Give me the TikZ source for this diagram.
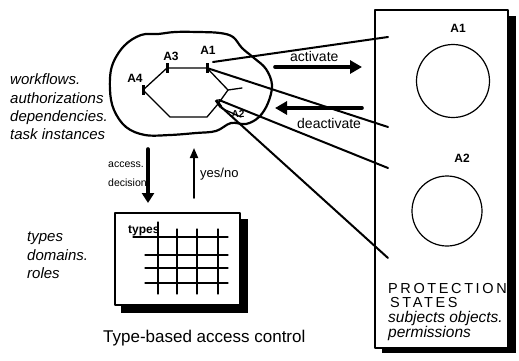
\documentclass[tikz,border=0pt]{standalone}
\usepackage{fontspec}
\setmainfont{Liberation Sans}
\usetikzlibrary{arrows.meta}

\begin{document}
\begin{tikzpicture}[x=1pt,y=-1pt,line join=round,line cap=round,
  lbl/.style={inner sep=0pt,anchor=base west},
  note/.style={lbl,font=\fontsize{15}{18}\selectfont\itshape},
  tag/.style={inner sep=0pt,font=\fontsize{12}{12}\selectfont\bfseries},
  small/.style={lbl,font=\fontsize{10.5}{11}\selectfont},
  wire/.style={line width=2pt},
  hexedge/.style={line width=1.3pt},
  tick/.style={line width=3pt,line cap=butt},
  bigarrow/.style={line width=3.6pt,-{Triangle[length=12pt,width=13pt]}},
  thinarrow/.style={line width=1.8pt,-{Triangle[length=10pt,width=8pt]}},
  gridline/.style={line width=1.3pt}]
\useasboundingbox (0,0) rectangle (519,360);

% ---------- cloud with the activity graph ----------
\draw[line width=2.2pt] plot[smooth cycle,tension=0.6] coordinates {
  (124,46) (141,35) (158,34) (175,32) (198,32) (220,33) (233,37) (242,48)
  (254,58) (266,69) (272,85) (268,103) (259,117) (246,124) (231,123)
  (216,131) (196,133) (170,135) (145,135) (126,127) (114,110) (110,90)
  (112,66)};

\coordinate (hA1) at (207,68);
\coordinate (hA3) at (167,68);
\coordinate (hA4) at (143,90);
\coordinate (hBL) at (170,117);
\coordinate (hBR) at (207,117);
\coordinate (hA2) at (218,104);
\coordinate (hR)  at (228,90);
\coordinate (hS)  at (242,88);

\draw[hexedge] (hA3) -- (hA1) -- (hR) -- (hA2) -- (hBR) -- (hBL) -- (hA4) -- cycle;
\draw[hexedge] (hR) -- (hS);

\draw[tick] (207,63) -- (207,73);
\draw[tick] (167,63) -- (167,73);
\draw[tick] (143,85) -- (143,95);
\draw[tick] (216,100) -- (221,107);

\node[tag] (tA1) at (208,50) {A1};
\node[tag] (tA3) at (171,56) {A3};
\node[tag] (tA4) at (135,78) {A4};
\node[inner sep=0pt,font=\fontsize{10}{10}\selectfont\bfseries] (tA2) at (238,114) {A2};

% ---------- protection-state panel ----------
\fill (382,16) rectangle (516,353);
\draw[fill=white,line width=1.4pt] (375,10) rectangle (508,348);

\node[circle,draw,line width=1.2pt,minimum size=73pt,inner sep=0pt] (cA1) at (453,81) {};
\node[circle,draw,line width=1.2pt,minimum size=70pt,inner sep=0pt] (cA2) at (447,211) {};
\node[tag] (pA1) at (458,28) {A1};
\node[tag] (pA2) at (462,158) {A2};

\node[lbl,font=\fontsize{14.5}{14}\selectfont\addfontfeatures{LetterSpace=18}] (prot) at (388,293) {PROTECTION};
\node[lbl,font=\fontsize{14.5}{14}\selectfont\addfontfeatures{LetterSpace=18}] (stat) at (390,307) {STATES};
\node[note,font=\fontsize{15.5}{16}\selectfont\itshape] (subj) at (388,322) {subjects objects.};
\node[note,font=\fontsize{15.5}{16}\selectfont\itshape] (perm) at (388,337) {permissions};

% ---------- links between the graph and the panel ----------
\coordinate (e1) at (388,37);
\coordinate (e2) at (388,127);
\coordinate (e3) at (388,168);
\coordinate (e4) at (388,258);
\coordinate (s1) at (213,62);
\coordinate (s3) at (219,100);
\coordinate (s4) at (219,105);

\draw[wire] (s1) -- (e1);
\draw[wire] (hA1) -- (e2);
\draw[wire] (s3) -- (e3);
\draw[wire] (s4) -- (e4);
\draw[line width=1.3pt] (221,108) -- (241,117);

\coordinate (actL) at (275,67);
\coordinate (actR) at (362,67);
\coordinate (deaL) at (275,108);
\coordinate (deaR) at (362,108);
\draw[bigarrow] (actL) -- (actR);
\draw[bigarrow] (deaR) -- (deaL);
\node[lbl,font=\fontsize{14}{14}\selectfont] (act) at (290,61) {activate};
\node[lbl,font=\fontsize{14}{14}\selectfont] (dea) at (297,128) {deactivate};

% ---------- left-hand notes ----------
\node[note] (n1) at (10,84) {workflows.};
\node[note] (n2) at (10,103) {authorizations};
\node[note] (n3) at (10,121) {dependencies.};
\node[note] (n4) at (10,139) {task instances};

\node[note] (m1) at (27,241) {types};
\node[note] (m2) at (27,260) {domains.};
\node[note] (m3) at (27,278) {roles};

% ---------- access decision ----------
\coordinate (dTop) at (148,149);
\coordinate (dBot) at (148,203);
\coordinate (uBot) at (194,198);
\coordinate (uTop) at (194,148);
\draw[bigarrow,-{Triangle[length=10pt,width=12pt]}] (dTop) -- (dBot);
\draw[thinarrow] (uBot) -- (uTop);
\node[small] (acc) at (108,167) {access.};
\node[small] (dec) at (108,186) {decision};
\node[lbl,font=\fontsize{13}{13}\selectfont] (yn) at (200,177) {yes/no};

% ---------- type table ----------
\fill (121,219) rectangle (248,313);
\draw[fill=white,line width=1.4pt] (115,213) rectangle (240,305);
\node[lbl,font=\fontsize{12}{12}\selectfont\bfseries] (ty) at (128,233) {types};
\draw[gridline] (133,237) -- (228,237);
\foreach \yy in {255,268,283} \draw[gridline] (145,\yy) -- (228,\yy);
\draw[gridline] (158,222) -- (158,294);
\foreach \xx in {177,197,218} \draw[gridline] (\xx,229) -- (\xx,294);

\node[lbl,font=\fontsize{17}{17}\selectfont] (cap) at (103,342) {Type-based access control};
\end{tikzpicture}
\end{document}
